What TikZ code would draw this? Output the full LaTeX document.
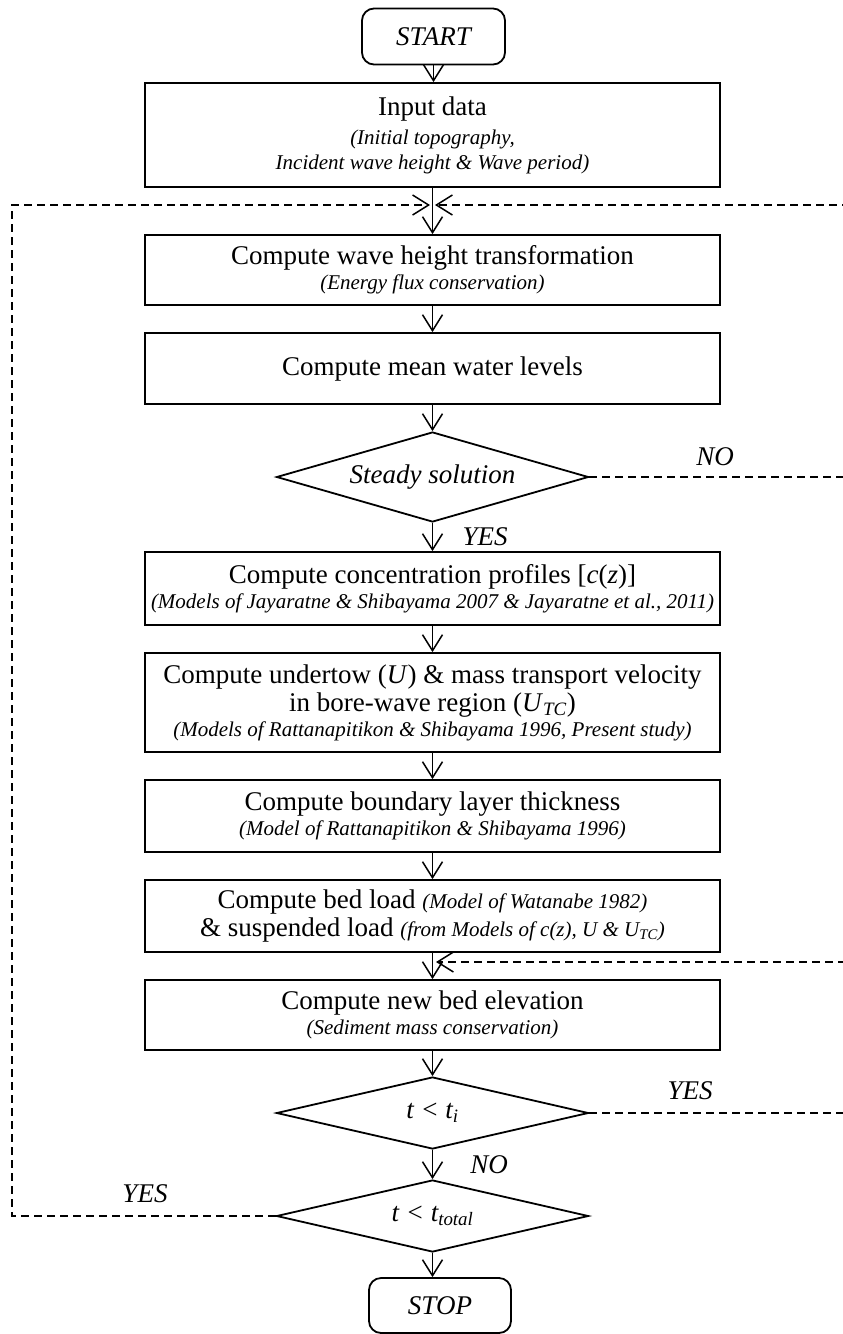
\documentclass[tikz,border=0pt]{standalone}
\usepackage{fontspec}
\setmainfont{Liberation Serif}
\usetikzlibrary{shapes.geometric,arrows.meta,calc}
\newcommand\mainf{\fontsize{27}{25}\selectfont}
\newcommand\subf{\fontsize{21}{25}\selectfont\itshape}
\begin{document}
\begin{tikzpicture}[x=1pt,y=-1pt,
  box/.style={draw, line width=1.8pt, minimum width=575pt, inner sep=0pt, align=center, font=\mainf},
  term/.style={draw, line width=1.8pt, rounded corners=12pt, minimum width=143pt, minimum height=56pt, inner sep=0pt, font=\mainf\itshape},
  dec/.style={draw, diamond, aspect=3.5, line width=1.8pt, minimum width=312pt, inner sep=0pt, font=\mainf\itshape},
  arr/.style={-{Straight Barb[length=16pt,width=20pt]}, line width=1.5pt},
  dsh/.style={-{Straight Barb[length=16pt,width=20pt]}, line width=1.5pt, dash pattern=on 8pt off 5pt},
  lbl/.style={font=\mainf\itshape, inner sep=0pt}]
\useasboundingbox (0,0) rectangle (843,1334);
\node[term] (start) at (433.5,36.5) {START};
\node[box, minimum height=104pt] (input) at (432.5,135) {Input data\\[4pt]{\subf (Initial topography,}\\{\subf Incident wave height \& Wave period)}};
\node[box, minimum height=70pt] (wave) at (432.5,270) {Compute wave height transformation\\{\subf (Energy flux conservation)}};
\node[box, minimum height=71pt] (mean) at (432.5,368.5) {Compute mean water levels};
\node[dec, minimum height=90pt] (steady) at (432.5,477) {Steady solution};
\node[box, minimum height=73pt] (conc) at (432.5,588.5) {Compute concentration profiles [\textit{c}(\textit{z})]\\{\subf (Models of Jayaratne \& Shibayama 2007 \& Jayaratne et al., 2011)}};
\node[box, minimum height=99pt] (under) at (432.5,702.5) {Compute undertow (\textit{U}) \& mass transport velocity\\[3pt]in bore-wave region (\textit{U}\textsubscript{\textit{TC}})\\{\subf (Models of Rattanapitikon \& Shibayama 1996, Present study)}};
\node[box, minimum height=72pt] (bound) at (432.5,816) {Compute boundary layer thickness\\{\subf (Model of Rattanapitikon \& Shibayama 1996)}};
\node[box, minimum height=72pt] (bed) at (432.5,916) {Compute bed load {\subf (Model of Watanabe 1982)}\\[3pt]\& suspended load {\subf (from Models of c(z), U \& U\textsubscript{TC})}};
\node[box, minimum height=70pt] (newbed) at (432.5,1015) {Compute new bed elevation\\{\subf (Sediment mass conservation)}};
\node[dec, minimum height=72pt] (ti) at (432.5,1113) {t < t\textsubscript{i}};
\node[dec, minimum height=72pt] (tt) at (432.5,1216) {t < t\textsubscript{total}};
\node[term, minimum width=142pt, minimum height=55pt] (stop) at (440,1305.5) {STOP};
\coordinate (jl) at (430,205);
\coordinate (jr) at (435,205);
\coordinate (jb) at (436,962);
\coordinate (rx) at (850,0);
\coordinate (lx) at (12,0);
\draw[arr] (start.south) -- (start.south |- input.north);
\draw[arr] (input.south) -- (wave.north);
\draw[arr] (wave.south) -- (mean.north);
\draw[arr] (mean.south) -- (steady.north);
\draw[arr] (steady.south) -- (conc.north);
\draw[arr] (conc.south) -- (under.north);
\draw[arr] (under.south) -- (bound.north);
\draw[arr] (bound.south) -- (bed.north);
\draw[arr] (bed.south) -- (newbed.north);
\draw[arr] (newbed.south) -- (ti.north);
\draw[arr] (ti.south) -- (tt.north);
\draw[arr] (tt.south) -- (tt.south |- stop.north);
\draw[dsh] (steady.east) -- (steady.east -| rx) |- (jr);
\draw[dsh] (tt.west) -- (tt.west -| lx) |- (jl);
\draw[dsh] (ti.east) -- (ti.east -| rx) |- (jb);
\node[lbl] (lno1) at (715,457) {NO};
\node[lbl] (lyes1) at (485,537) {YES};
\node[lbl] (lyes2) at (690,1091) {YES};
\node[lbl] (lno2) at (489,1165) {NO};
\node[lbl] (lyes3) at (145,1194) {YES};
\end{tikzpicture}
\end{document}
